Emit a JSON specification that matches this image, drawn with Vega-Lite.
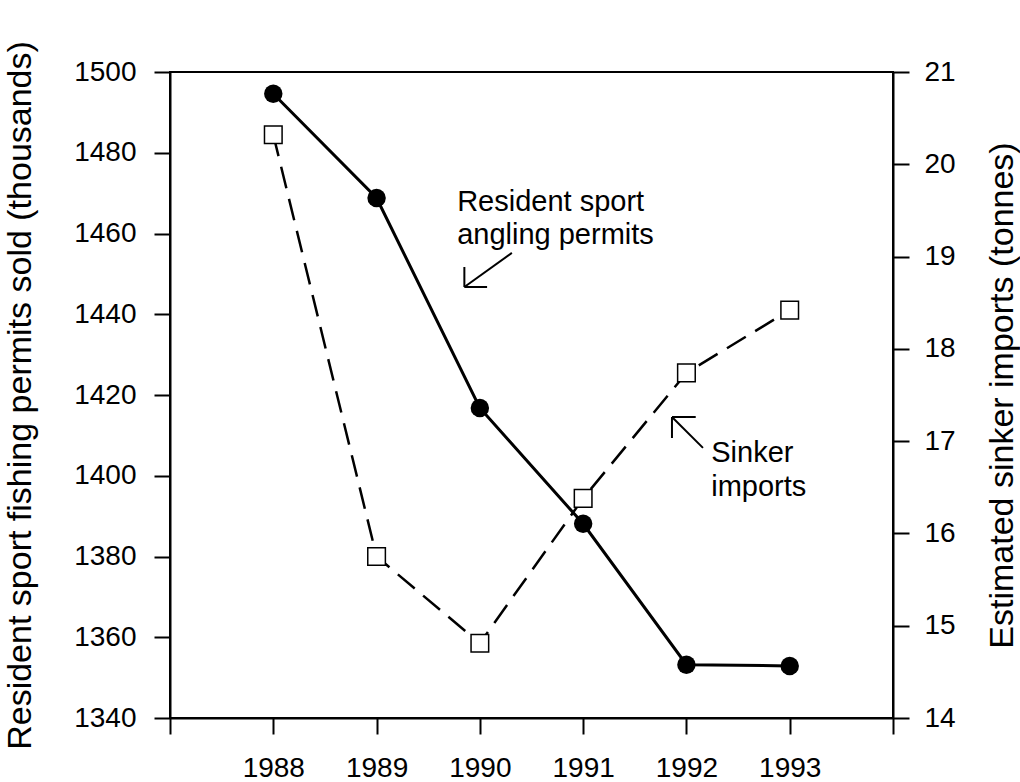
{
  "$schema": "https://vega.github.io/schema/vega-lite/v6.json",
  "width": 723,
  "height": 646,
  "autosize": {"type": "none"},
  "padding": {"left": 170, "top": 72, "right": 127, "bottom": 64},
  "background": "white",
  "config": {
    "font": "Liberation Sans",
    "view": {"stroke": "black", "strokeWidth": 2},
    "axis": {
      "domainColor": "black", "domainWidth": 2, "tickColor": "black", "tickWidth": 2,
      "labelColor": "black", "titleColor": "black", "labelFont": "Liberation Sans",
      "titleFont": "Liberation Sans", "titleFontWeight": "normal", "grid": false,
      "labelFontSize": 28, "titleFontSize": 34, "tickSize": 16
    }
  },
  "datasets": {
    "permits": [
      {"year": 1988, "permits": 1494.6},
      {"year": 1989, "permits": 1468.8},
      {"year": 1990, "permits": 1416.8},
      {"year": 1991, "permits": 1388.1},
      {"year": 1992, "permits": 1353.2},
      {"year": 1993, "permits": 1352.9}
    ],
    "sinkers": [
      {"year": 1988, "tonnes": 20.32},
      {"year": 1989, "tonnes": 15.75},
      {"year": 1990, "tonnes": 14.81},
      {"year": 1991, "tonnes": 16.38},
      {"year": 1992, "tonnes": 17.74},
      {"year": 1993, "tonnes": 18.42}
    ],
    "labels": [
      {"x": 1989.78, "y": 1467.8, "text": "Resident sport"},
      {"x": 1989.78, "y": 1459.6, "text": "angling permits"},
      {"x": 1992.24, "y": 1405.6, "text": "Sinker"},
      {"x": 1992.24, "y": 1397.2, "text": "imports"}
    ],
    "arrows": [
      {"x": 1990.31, "y": 1455.2, "x2": 1989.85, "y2": 1446.75},
      {"x": 1989.85, "y": 1451.7, "x2": 1989.85, "y2": 1446.75},
      {"x": 1989.85, "y": 1446.75, "x2": 1990.07, "y2": 1446.75},
      {"x": 1992.16, "y": 1406.9, "x2": 1991.86, "y2": 1414.55},
      {"x": 1991.86, "y": 1414.55, "x2": 1991.86, "y2": 1409.35},
      {"x": 1991.86, "y": 1414.55, "x2": 1992.09, "y2": 1414.55}
    ]
  },
  "layer": [
    {
      "data": {"name": "sinkers"},
      "encoding": {
        "x": {"field": "year", "type": "quantitative", "scale": {"domain": [1987, 1994], "nice": false}, "axis": {"values": [1987, 1988, 1989, 1990, 1991, 1992, 1993, 1994], "format": "d", "title": null, "labelPadding": 20, "labelExpr": "datum.value == 1987 || datum.value == 1994 ? '' : datum.label"}},
        "y": {"field": "tonnes", "type": "quantitative", "scale": {"domain": [14, 21], "nice": false, "zero": false}, "axis": {"orient": "right", "values": [14, 15, 16, 17, 18, 19, 20, 21], "format": "d", "title": "Estimated sinker imports (tonnes)", "titleAngle": 270, "labelPadding": 15, "titlePadding": 64}}
      },
      "layer": [
        {"mark": {"type": "line", "color": "black", "strokeWidth": 2.5, "strokeDash": [22, 11]}},
        {"mark": {"type": "point", "shape": "square", "filled": true, "fill": "white", "stroke": "black", "strokeWidth": 1.5, "size": 310, "opacity": 1}}
      ]
    },
    {
      "layer": [
        {
          "data": {"name": "permits"},
          "encoding": {
            "x": {"field": "year", "type": "quantitative", "scale": {"domain": [1987, 1994], "nice": false}},
            "y": {"field": "permits", "type": "quantitative", "scale": {"domain": [1340, 1500], "nice": false, "zero": false}, "axis": {"orient": "left", "values": [1340, 1360, 1380, 1400, 1420, 1440, 1460, 1480, 1500], "format": "d", "title": "Resident sport fishing permits sold (thousands)", "labelPadding": 18, "titlePadding": 36}}
          },
          "layer": [
            {"mark": {"type": "line", "color": "black", "strokeWidth": 3}},
            {"mark": {"type": "circle", "color": "black", "size": 340, "opacity": 1}}
          ]
        },
        {
          "data": {"name": "arrows"},
          "mark": {"type": "rule", "color": "black", "strokeWidth": 2},
          "encoding": {
            "x": {"field": "x", "type": "quantitative"},
            "y": {"field": "y", "type": "quantitative"},
            "x2": {"field": "x2"},
            "y2": {"field": "y2"}
          }
        },
        {
          "data": {"name": "labels"},
          "mark": {"type": "text", "align": "left", "baseline": "middle", "fontSize": 29, "font": "Liberation Sans", "color": "black"},
          "encoding": {
            "x": {"field": "x", "type": "quantitative"},
            "y": {"field": "y", "type": "quantitative"},
            "text": {"field": "text"}
          }
        }
      ]
    }
  ],
  "resolve": {"scale": {"y": "independent"}}
}
